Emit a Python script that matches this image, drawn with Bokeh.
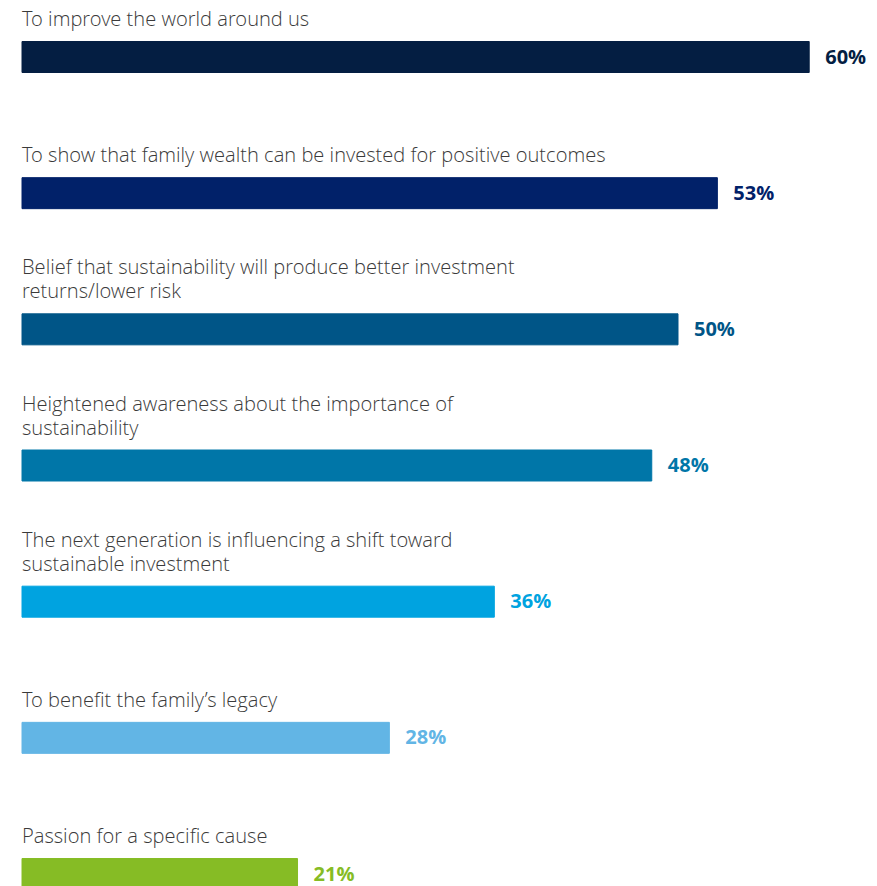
from bokeh.plotting import figure
from bokeh.models import ColumnDataSource, Range1d
from bokeh.core.properties import value
from bokeh.embed import file_html
from bokeh.resources import INLINE

labels = [
    "To improve the world around us",
    "To show that family wealth can be invested for positive outcomes",
    "Belief that sustainability will produce better investment\nreturns/lower risk",
    "Heightened awareness about the importance of\nsustainability",
    "The next generation is influencing a shift toward\nsustainable investment",
    "To benefit the family\u2019s legacy",
    "Passion for a specific cause",
]
values = [60, 53, 50, 48, 36, 28, 21]
bar_colors = ["#041E42", "#012169", "#005587", "#0076A8", "#00A3E0", "#62B5E5", "#86BC25"]
value_colors = ["#041E42", "#012169", "#005587", "#0076A8", "#00A3E0", "#62B5E5", "#86BC25"]

W, H = 877, 886
slot = 136.17
px_per_unit = 13.12
left_px = 21.5
first_center_px = 56.5

p = figure(width=W, height=H, output_backend="svg", toolbar_location=None,
           min_border=0, min_border_left=0, min_border_right=0,
           min_border_top=0, min_border_bottom=0)
p.x_range = Range1d(-left_px / px_per_unit, (W - left_px) / px_per_unit)
p.y_range = Range1d((H - first_center_px) / slot, -first_center_px / slot)
p.axis.visible = False
p.grid.visible = False
p.outline_line_color = None
p.background_fill_color = "white"
p.border_fill_color = "white"

idx = list(range(len(values)))
bars = ColumnDataSource(dict(y=idx, right=values, color=bar_colors,
                             vtext=[f"{v}%" for v in values], vcolor=value_colors))
p.hbar(y="y", left=0, right="right", height=31 / slot, color="color", source=bars)
p.text(x="right", y="y", text="vtext", text_color="vcolor", source=bars,
       x_offset=16, y_offset=-1, text_baseline="middle", text_align="left",
       text_font=value("Open Sans"), text_font_style="bold", text_font_size="20px")

ly, lt, lo = [], [], []
for i, lab in enumerate(labels):
    lines = lab.split("\n")
    n = len(lines)
    for j, ln in enumerate(lines):
        ly.append(i)
        lt.append(ln)
        lo.append(-38.5 - (n - 1 - j) * 24)
lsrc = ColumnDataSource(dict(x=[0] * len(ly), y=ly, text=lt, off=lo))
p.text(x="x", y="y", text="text", y_offset="off", source=lsrc,
       text_baseline="alphabetic", text_align="left", text_color="#3a3a3a",
       text_font=value("'Open Sans Light', 'Open Sans'"), text_font_size="20.1px")

html = file_html(p, INLINE)
html = html.replace("<body>", "<body style=\"overflow:hidden\">", 1)
open("out.html", "w").write(html)
